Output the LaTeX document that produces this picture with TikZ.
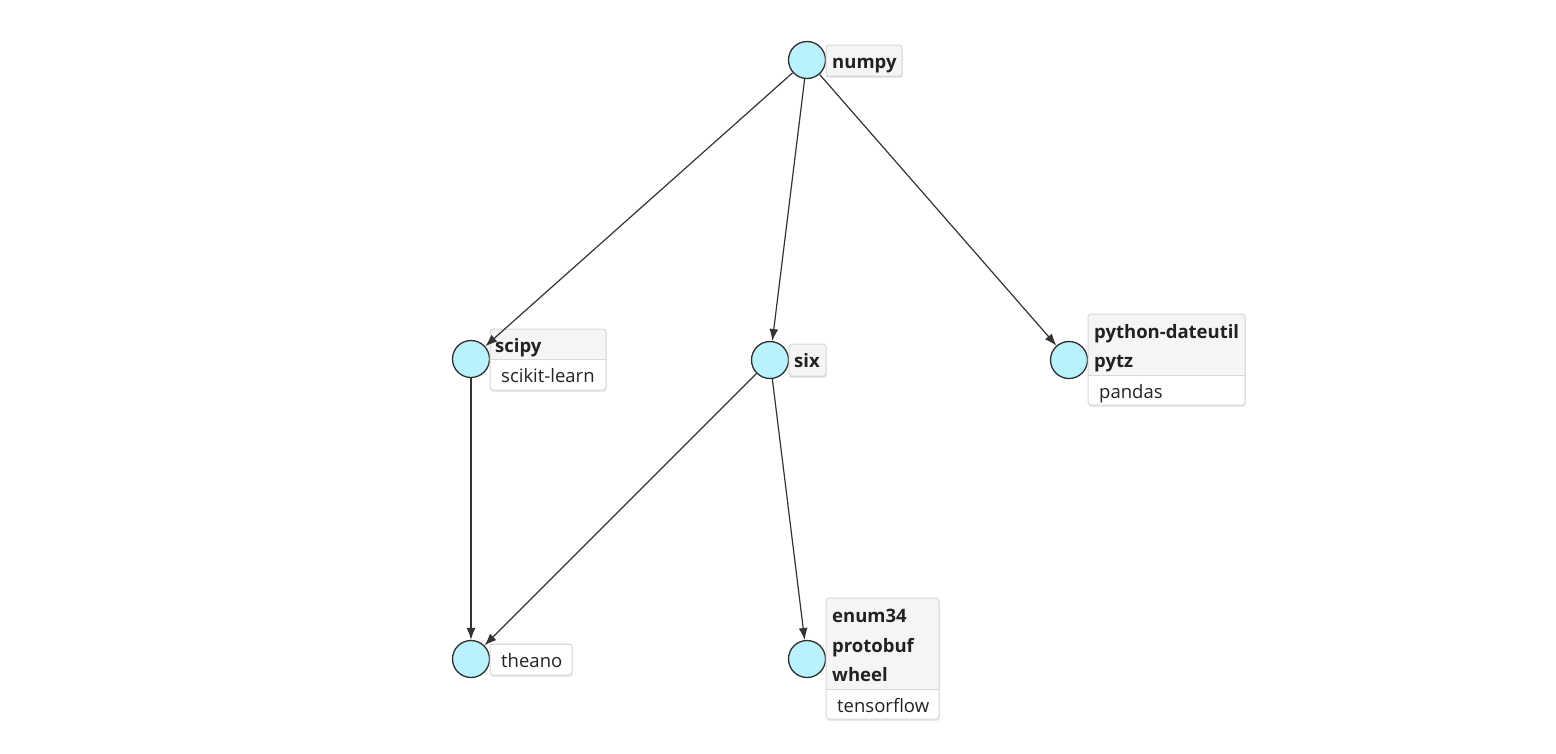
\documentclass[tikz,border=0pt]{standalone}
\usepackage{fontspec}
\setmainfont{Open Sans}
\usetikzlibrary{arrows.meta}
\definecolor{pkgfill}{HTML}{B9F1FD}
\definecolor{pkgline}{HTML}{2E2E2E}
\definecolor{edgecol}{HTML}{333333}
\definecolor{boxline}{HTML}{D8D8D8}
\definecolor{headfill}{HTML}{F5F5F5}
\definecolor{txt}{HTML}{222222}

\tikzset{
  pkg/.style={circle, draw=pkgline, fill=pkgfill, line width=1.3pt, minimum size=37pt, inner sep=0pt},
  dep/.style={draw=edgecol, line width=1.2pt, -{Latex[length=12pt,width=9pt]}},
  hdr/.style={anchor=mid west, yshift=-5pt, font=\bfseries\fontsize{18.5}{22}\selectfont, text=txt, inner sep=0pt},
  sub/.style={anchor=mid west, yshift=-5pt, font=\fontsize{18.5}{22}\selectfont, text=txt, inner sep=0pt},
}

% label box: #1 left, #2 top, #3 width, #4 header height, #5 body height
\newcommand{\tagbox}[5]{%
  \pgfmathsetmacro\tbot{#2+#4+#5}%
  \pgfmathsetmacro\tright{#1+#3}%
  \pgfmathsetmacro\tsep{#2+#4}%
  \fill[black!9, rounded corners=3pt] (#1+0.5,#2+1.5) rectangle (\tright+0.8,\tbot+1.8);
  \fill[white, rounded corners=3pt] (#1,#2) rectangle (\tright,\tbot);
  \begin{scope}
    \clip[rounded corners=3pt] (#1,#2) rectangle (\tright,\tbot);
    \fill[headfill] (#1,#2) rectangle (\tright,\tsep);
  \end{scope}
  \draw[boxline, line width=1pt] (#1,\tsep) -- (\tright,\tsep);
  \draw[boxline, line width=1pt, rounded corners=3pt] (#1,#2) rectangle (\tright,\tbot);
}

\begin{document}
\begin{tikzpicture}[x=1pt,y=-1pt]
\useasboundingbox (0,0) rectangle (1556,753);

% packages
\node[pkg] (numpy) at (807,60) {};
\node[pkg] (scipy) at (471,359) {};
\node[pkg] (six) at (770,360) {};
\node[pkg] (pandas) at (1069,360) {};
\node[pkg] (theano) at (471,659) {};
\node[pkg] (tensorflow) at (807,659) {};

% labels
\tagbox{826}{45}{76}{31}{0}
\node[hdr] (numpyname) at (832,61) {numpy};

\tagbox{490}{329}{116}{30}{31}
\node[hdr] (scipyname) at (495,345) {scipy};
\node[sub] (scipysub) at (501,375) {scikit-learn};

\tagbox{789}{344}{37}{32}{0}
\node[hdr] (sixname) at (794,360) {six};

\tagbox{1088}{314}{157}{61}{30}
\node[hdr] (dateutilname) at (1094,331) {python-dateutil};
\node[hdr] (pytzname) at (1094,360) {pytz};
\node[sub] (pandassub) at (1099,391) {pandas};

\tagbox{490}{644}{82}{0}{31}
\node[sub] (theanosub) at (501,660) {theano};

\tagbox{826}{598}{113}{91}{30}
\node[hdr] (enumname) at (832,615) {enum34};
\node[hdr] (protobufname) at (832,645) {protobuf};
\node[hdr] (wheelname) at (832,674) {wheel};
\node[sub] (tensorflowsub) at (837,705) {tensorflow};

% dependencies
\draw[dep] (numpy) -- (scipy);
\draw[dep] (numpy) -- (six);
\draw[dep] (numpy) -- (pandas);
\draw[dep] (scipy) -- (theano);
\draw[dep] (six) -- (theano);
\draw[dep] (six) -- (tensorflow);
\end{tikzpicture}
\end{document}
